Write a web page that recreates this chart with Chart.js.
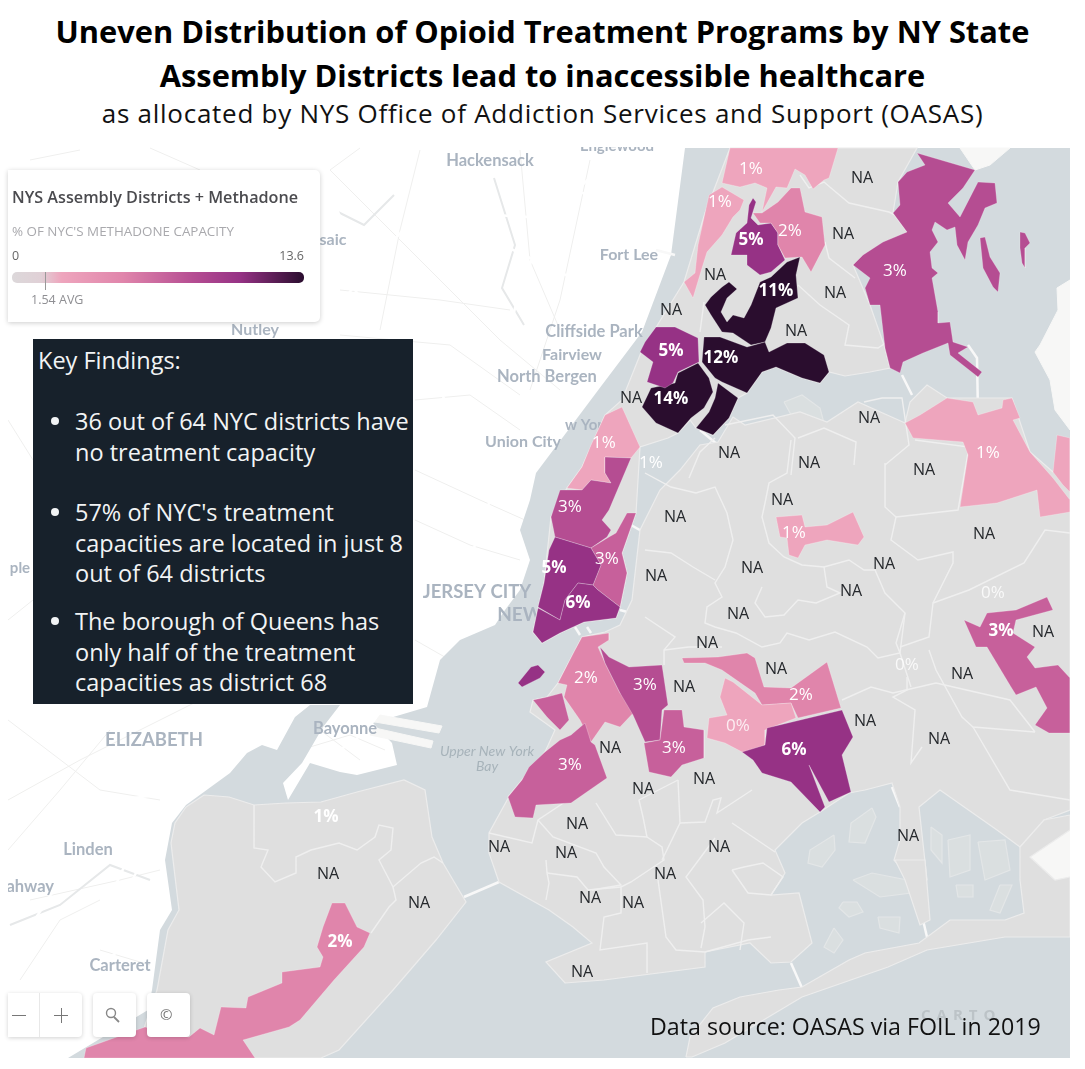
<!DOCTYPE html>
<html>
<head>
<meta charset="utf-8">
<title>Opioid Treatment Programs by NY State Assembly Districts</title>
<script src="https://cdn.jsdelivr.net/npm/chart.js@4/dist/chart.umd.min.js"></script>
<style>
  html, body { margin: 0; padding: 0; background: #fff; }
  body { position: relative; width: 1085px; height: 1069px; overflow: hidden; font-family: "Open Sans", sans-serif; }
  .t { position: absolute; white-space: nowrap; line-height: 1; }
  #title1, #title2 { left: 0; width: 1085px; text-align: center; font-weight: 700; font-size: 30.8px; color: #000; }
  #title1 { top: 16px; }
  #title2 { top: 60px; }
  #subtitle { left: 0; width: 1085px; text-align: center; font-size: 26px; letter-spacing: .74px; top: 100px; color: #111; }
  #mapCanvas { position: absolute; left: 8px; top: 147px; }
  #legendBox { position: absolute; left: 8px; top: 170px; width: 312px; height: 152px; background: #fff; border-radius: 0 5px 5px 0; box-shadow: 0 1px 5px rgba(0,0,0,.2); }
  #legendBar { position: absolute; left: 4px; top: 102px; width: 292px; height: 11px; border-radius: 5px;
    background: linear-gradient(90deg, #dcd8da 0%, #e0d0d6 10%, #eea5bd 17%, #e085ab 38%, #b54d92 62%, #963285 78%, #2a0d2e 100%); }
  #legendTick { position: absolute; left: 37px; top: 102px; width: 1px; height: 18px; background: #999; }
  #keyBox { position: absolute; left: 33px; top: 339px; width: 380px; height: 365px; background: #17212b; color: #f2f4f5; font-size: 23.5px; }
  .dot { position: absolute; left: 18px; width: 8px; height: 8px; border-radius: 50%; background: #f2f4f5; }
  .btn { position: absolute; top: 993px; height: 44px; background: #fff; border-radius: 4px; box-shadow: 0 1px 4px rgba(0,0,0,.18); color: #777; }
  #source { left: 650px; top: 1015px; font-size: 23.2px; color: #111; }
</style>
</head>
<body>
<div class="t" id="title1">Uneven Distribution of Opioid Treatment Programs by NY State</div>
<div class="t" id="title2">Assembly Districts lead to inaccessible healthcare</div>
<div class="t" id="subtitle">as allocated by NYS Office of Addiction Services and Support (OASAS)</div>

<canvas id="mapCanvas" width="1062" height="911"></canvas>

<div id="legendBox">
  <div class="t" style="left:4px;top:19px;font-size:16.2px;font-weight:600;color:#4b4b4f">NYS Assembly Districts + Methadone</div>
  <div class="t" style="left:4px;top:55px;font-size:13.4px;color:#a9a9ad">% OF NYC'S METHADONE CAPACITY</div>
  <div class="t" style="left:4px;top:80px;font-size:12.5px;color:#666">0</div>
  <div class="t" style="right:16px;top:80px;font-size:12.5px;color:#666">13.6</div>
  <div id="legendBar"></div>
  <div id="legendTick"></div>
  <div class="t" style="left:23px;top:124px;font-size:12.5px;color:#8f8f93">1.54 AVG</div>
</div>

<div id="keyBox">
  <div class="t" style="left:5px;top:10px">Key Findings:</div>
  <div class="dot" style="top:78px"></div>
  <div class="t" style="left:42px;top:71px">36 out of 64 NYC districts have</div>
  <div class="t" style="left:42px;top:102px">no treatment capacity</div>
  <div class="dot" style="top:169px"></div>
  <div class="t" style="left:42px;top:162px">57% of NYC's treatment</div>
  <div class="t" style="left:42px;top:193px">capacities are located in just 8</div>
  <div class="t" style="left:42px;top:223px">out of 64 districts</div>
  <div class="dot" style="top:278px"></div>
  <div class="t" style="left:42px;top:271px">The borough of Queens has</div>
  <div class="t" style="left:42px;top:302px">only half of the treatment</div>
  <div class="t" style="left:42px;top:332px">capacities as district 68</div>
</div>

<div class="btn" style="left:8px;width:74px;border-radius:0 4px 4px 0">
  <div style="position:absolute;left:31px;top:0;width:1px;height:44px;background:#e8e8e8"></div>
  <div style="position:absolute;left:4px;top:22px;width:14px;height:1px;background:#777"></div>
  <div style="position:absolute;left:46px;top:22px;width:14px;height:1px;background:#777"></div>
  <div style="position:absolute;left:53px;top:15px;width:1px;height:15px;background:#777"></div>
</div>
<div class="btn" style="left:93px;width:43px">
  <svg width="43" height="44"><circle cx="18" cy="20" r="4.5" fill="none" stroke="#888" stroke-width="1.4"/><line x1="21" y1="24" x2="26" y2="29" stroke="#888" stroke-width="1.8"/></svg>
</div>
<div class="btn" style="left:147px;width:43px">
  <div class="t" style="left:13px;top:14px;font-size:15px">©</div>
</div>

<div class="t" style="left:921px;top:1007px;font-size:15px;font-weight:700;letter-spacing:6px;color:#bcc3c7">CARTO</div>
<div class="t" id="source">Data source: OASAS via FOIL in 2019</div>

<script>
// base map outlines in page pixels
const water = [[685,148],[1070,148],[1070,1058],[68,1058],[148,1010],[152,990],[160,930],[172,910],[165,860],[172,823],[186,805],[230,773],[247,753],[262,745],[277,750],[295,717],[310,705],[340,705],[323,727],[302,763],[283,783],[288,800],[310,763],[340,772],[357,775],[397,765],[392,743],[373,723],[427,707],[440,660],[460,640],[495,625],[505,610],[520,590],[530,560],[520,530],[530,500],[536,473],[602,385],[642,332],[671,255]];
const northShore = [[960,148],[1010,148],[990,165],[975,170]];
const longIslandNorth = [[1070,280],[1057,288],[1058,310],[1040,345],[1035,352],[1050,380],[1055,410],[1070,430]];
const longIslandSouth = [[1070,830],[1030,857],[1055,880],[1070,877]];
const pierOne = [[380,715],[442,726],[439,733],[375,722]];
const pierTwo = [[375,728],[433,741],[431,748],[370,735]];
const bronxManhattan = [[730,148],[917,148],[898,182],[893,213],[907,232],[853,265],[870,305],[885,348],[890,368],[870,372],[845,376],[829,372],[820,383],[802,378],[776,367],[762,372],[747,393],[738,398],[729,418],[713,435],[696,428],[690,420],[678,433],[668,438],[640,447],[636,513],[622,553],[627,573],[620,607],[616,618],[584,622],[560,633],[542,643],[533,632],[538,608],[544,583],[551,517],[567,488],[582,467],[605,415],[622,400],[642,350],[684,282],[705,213]];
const queensBrooklyn = [[1070,440],[1053,472],[1030,452],[1012,398],[947,398],[927,385],[910,402],[905,423],[858,402],[827,422],[800,412],[745,425],[733,417],[718,442],[700,445],[680,470],[660,490],[640,530],[632,600],[620,625],[605,632],[582,637],[558,683],[547,697],[533,700],[530,712],[555,730],[545,752],[508,797],[511,793],[489,833],[489,853],[499,882],[549,910],[573,927],[592,943],[546,962],[565,983],[604,980],[705,967],[705,952],[750,943],[771,963],[791,962],[812,943],[799,893],[771,895],[785,873],[775,850],[802,823],[820,812],[849,793],[865,790],[892,783],[900,807],[900,840],[894,860],[912,880],[927,880],[919,807],[940,790],[997,830],[1020,847],[1044,820],[1070,810]];
const rockaway = [[686,1057],[690,1037],[713,1008],[740,997],[779,990],[802,987],[849,960],[865,953],[919,943],[950,920],[1005,920],[1024,913],[1020,880],[1020,847],[1044,820],[1070,815],[1070,830],[1030,857],[1055,880],[1070,877],[1070,937],[1005,937],[927,950],[888,967],[802,997],[725,1043],[692,1057]];
const broadChannel = [[895,860],[925,860],[930,920],[920,925],[905,880]];
const statenIsland = [[186,807],[204,795],[229,797],[254,805],[286,803],[321,802],[357,792],[404,780],[425,790],[432,837],[443,863],[466,902],[436,940],[393,990],[339,1050],[321,1058],[250,1058],[140,1040],[157,990],[168,930],[179,910],[171,843],[175,823]];
const landShapes = [northShore, longIslandNorth, longIslandSouth, pierOne, pierTwo];
const nycShapes = [bronxManhattan, queensBrooklyn, rockaway, broadChannel, statenIsland];

// small islands in the bays, drawn paler than the boroughs
const rikers = [[784,402],[802,395],[820,408],[824,423],[795,422]];
const marshA = [[834,835],[810,850],[808,863],[822,867],[835,850]];
const marshB = [[872,808],[851,823],[849,842],[865,843],[876,817]];
const marshC = [[853,880],[872,873],[907,880],[911,893],[880,897]];
const marshD = [[843,902],[857,902],[863,912],[849,917],[839,908]];
const marshE = [[834,928],[843,940],[834,953],[824,947]];
const marshF = [[878,917],[900,917],[899,933],[880,928]];
const marshG = [[931,827],[942,835],[942,863],[931,850]];
const marshH = [[948,840],[970,835],[970,870],[950,877]];
const marshI = [[978,842],[1005,840],[1010,870],[985,880]];
const marshJ = [[1000,885],[1012,885],[1000,913],[990,910]];
const marshK = [[956,885],[973,885],[973,897],[958,897]];
const islandShapes = [rikers, marshA, marshB, marshC, marshD, marshE, marshF, marshG, marshH, marshI, marshJ, marshK];

// roads and rivers on the New Jersey side, bridges across the water
const njRoads = [
  [[433,155],[446,192],[446,215],[494,215],[546,218],[576,192],[615,198],[624,232],[671,255]],
  [[615,155],[546,218],[515,308],[507,345]],
  [[312,155],[242,165]],
  [[446,218],[572,278],[671,285]],
  [[320,165],[342,222],[333,252],[368,312]],
  [[68,987],[132,850],[168,800],[182,813]],
  [[82,983],[157,830]],
  [[121,800],[168,793]],
  [[11,957],[71,863],[111,813]],
  [[288,800],[297,770],[353,743],[393,697]],
  [[420,640],[470,560],[500,470],[560,400]],
  [[414,350],[470,440],[530,470]],
  [[414,560],[500,570]],
  [[420,210],[300,350]],
  [[200,900],[120,950],[20,1020]]
];
const njMinorRoads = [
  [[330,170],[420,260],[500,340],[560,390]],
  [[420,150],[400,230],[380,330]],
  [[520,150],[530,260],[560,330]],
  [[590,160],[560,300],[530,390]],
  [[340,290],[440,300],[510,310]],
  [[340,335],[450,345],[520,395]],
  [[415,400],[470,395],[520,430]],
  [[415,470],[480,500],[525,520]],
  [[415,520],[470,545],[520,560]],
  [[415,640],[450,660]],
  [[8,720],[100,790],[160,800]],
  [[8,800],[80,760],[200,700]],
  [[8,850],[60,790],[110,730]],
  [[30,900],[120,880],[160,870]],
  [[20,980],[60,920],[100,900]],
  [[100,950],[150,965]],
  [[8,420],[33,460]],
  [[8,620],[33,600]],
  [[30,160],[80,150]],
  [[150,148],[200,170]],
  [[360,148],[330,170]],
  [[300,750],[350,735],[385,750]],
  [[320,730],[360,760]]
];
const njRivers = [
  [[494,178],[515,245],[502,288],[524,325]],
  [[394,195],[364,225],[338,212]],
  [[150,880],[110,865],[60,905],[10,925]]
];
const bridges = [
  [[464,897],[499,882]], [[791,963],[802,988]], [[923,920],[927,937]], [[892,787],[900,807]],
  [[902,375],[912,395]], [[968,345],[977,358],[978,415]], [[656,250],[675,255]], [[620,610],[631,613]],
  [[575,627],[580,635]], [[587,627],[591,633]], [[631,525],[645,533]], [[700,430],[718,445]]
];

// district boundaries inside the grey land
const districtLines = [
  [[791,440],[787,473],[769,483],[765,503],[762,517],[769,543],[784,557],[802,565],[824,567],[827,587],[840,593],[816,603],[798,600],[784,615],[765,617],[755,603],[762,587]],
  [[645,473],[671,487],[696,493],[715,487],[727,513],[733,540],[725,567],[715,583],[722,597],[707,607],[705,623],[715,627],[736,633],[762,647],[780,643],[787,633],[809,640],[835,632],[867,647],[878,658],[900,653],[905,613],[885,593],[875,570],[864,570],[849,560],[824,567]],
  [[645,550],[671,553],[693,567],[715,580]],
  [[645,617],[675,637],[664,650],[664,665]],
  [[885,463],[885,507],[896,517],[891,540],[918,560],[953,552],[953,563],[933,603],[929,637],[900,647]],
  [[896,517],[958,510],[969,447],[915,440]],
  [[933,603],[969,590],[1024,563],[1045,530],[1070,533]],
  [[929,650],[936,670],[962,717],[973,727],[1035,732]],
  [[907,677],[907,690],[893,697],[915,710],[911,763],[922,747]],
  [[842,700],[871,687],[893,693],[936,683]],
  [[905,613],[896,643],[900,653],[911,687]],
  [[664,650],[689,647],[722,647]],
  [[489,833],[532,843],[538,820],[565,802]],
  [[538,820],[553,837],[596,853],[604,867],[621,885],[592,890]],
  [[596,803],[616,835],[647,837],[643,817],[639,800],[678,780]],
  [[647,837],[662,847],[664,860],[631,882],[621,887],[621,913],[604,917],[600,950],[647,943],[647,973]],
  [[680,823],[705,822],[713,800],[721,798],[717,813],[752,790]],
  [[678,780],[680,823],[662,860]],
  [[715,838],[686,877],[703,900],[705,927],[701,948]],
  [[658,880],[666,937],[676,950],[705,952],[748,940],[771,937]],
  [[546,860],[547,873],[549,883],[546,900]],
  [[547,873],[577,877],[588,890],[621,887]],
  [[732,823],[775,852]],
  [[732,870],[748,893],[771,895],[783,877],[763,863],[744,867],[732,870]],
  [[701,923],[724,903],[744,923],[740,950]],
  [[254,805],[254,848],[268,850],[261,867],[275,882],[296,873],[296,857],[311,850],[339,843],[357,850],[375,837],[379,825],[393,828],[391,850],[379,860],[393,887],[421,863],[434,857],[443,863]],
  [[393,887],[396,900],[389,907],[371,933]],
  [[800,175],[809,188],[824,182],[831,188],[849,203],[889,212],[895,215]],
  [[825,242],[829,258],[855,278]],
  [[798,285],[820,305],[849,325],[845,345],[878,348],[893,338]],
  [[704,302],[700,332]],
  [[864,402],[882,398],[902,398],[909,445],[885,465]],
  [[715,438],[700,452],[689,478]],
  [[725,425],[773,415],[795,438],[791,475]],
  [[798,438],[824,428],[856,442],[854,465]],
  [[1070,800],[1010,790],[973,727]],
  [[936,683],[1010,700],[1035,732]]
];

// coloured districts
const adNorthBronx = [[730,148],[838,148],[829,178],[824,180],[813,189],[805,175],[795,169],[787,188],[776,187],[762,212],[767,188],[755,183],[740,187],[722,183]];
const adRiverdale = [[722,187],[744,200],[740,210],[733,217],[722,235],[707,252],[702,268],[693,298],[684,282],[695,273],[698,245],[705,213],[709,195]];
const adNorwood = [[753,198],[756,202],[751,218],[758,225],[771,223],[778,233],[778,245],[785,260],[771,272],[760,275],[747,265],[747,255],[731,255],[736,233],[747,223],[749,205]];
const adWakefield = [[791,188],[800,188],[805,212],[822,217],[825,245],[811,272],[802,257],[785,258],[778,245],[778,233],[771,223],[760,223],[753,213],[762,213],[778,202]];
const adFordham = [[800,257],[796,275],[798,298],[776,308],[771,328],[765,342],[751,345],[733,333],[722,332],[711,315],[705,305],[711,297],[722,287],[729,282],[737,289],[727,298],[721,312],[727,322],[733,315],[744,318],[751,305],[760,282],[771,277],[787,262]];
const adSoundview = [[704,337],[720,337],[747,347],[765,342],[769,352],[787,343],[805,343],[824,355],[829,372],[820,383],[802,378],[776,367],[762,372],[747,393],[722,382],[715,378],[702,362]];
const adHarlem = [[698,363],[709,378],[713,392],[704,408],[691,418],[678,433],[656,423],[642,407],[651,388],[675,383],[678,373]];
const adMottHaven = [[718,383],[738,398],[729,418],[713,435],[696,428],[709,412],[715,398]];
const adWashHeights = [[656,327],[675,327],[698,338],[699,362],[678,372],[673,383],[665,388],[647,382],[653,362],[640,352],[645,342]];
const adEastBronx = [[917,153],[975,170],[963,188],[948,203],[960,217],[978,182],[995,183],[997,203],[985,208],[978,225],[968,242],[965,260],[957,245],[955,227],[947,230],[935,222],[932,230],[938,242],[930,252],[932,268],[938,273],[932,278],[938,312],[938,323],[950,322],[953,342],[968,347],[958,353],[982,372],[978,377],[950,355],[948,343],[923,353],[903,362],[900,373],[890,368],[885,348],[880,305],[870,305],[865,288],[870,278],[853,265],[863,255],[883,242],[907,232],[893,213],[900,205],[898,182],[907,172],[925,165]];
const adCityIsland = [[980,238],[985,237],[990,257],[1000,273],[998,292],[993,287],[983,268]];
const adHartIsland = [[1020,232],[1025,233],[1030,243],[1025,248],[1025,268],[1022,263],[1020,248]];
const adFlushing = [[947,398],[973,402],[978,415],[1002,408],[1003,400],[1012,398],[1020,418],[1013,420],[1030,452],[1053,478],[1070,500],[1070,512],[1040,517],[1037,490],[997,503],[960,507],[968,455],[963,442],[913,438],[905,423],[920,415]];
const adBayside = [[1057,435],[1070,438],[1070,492],[1063,485],[1053,472]];
const adUpperEast = [[622,407],[640,447],[631,458],[605,457],[605,473],[611,483],[591,480],[582,490],[567,488],[582,467],[591,445],[605,415]];
const adUpperWest = [[605,457],[631,458],[609,510],[602,520],[611,530],[607,537],[591,548],[555,537],[551,517],[560,490],[582,490],[591,480],[611,483],[605,473]];
const adEastSide = [[627,513],[636,513],[622,553],[627,573],[620,607],[598,590],[593,585],[601,565],[591,548],[609,537],[616,533]];
const adMidtown = [[555,537],[591,548],[601,565],[593,585],[578,583],[565,600],[560,620],[538,607],[544,583],[549,550]];
const adLowerEast = [[578,583],[593,585],[598,590],[620,607],[616,618],[584,622],[560,633],[542,643],[533,632],[538,608],[560,620],[565,600]];
const adGovernors = [[531,667],[538,665],[545,672],[540,678],[522,687],[518,683]];
const adParkSlope = [[582,637],[609,633],[609,640],[598,647],[605,663],[620,693],[636,710],[620,727],[605,722],[591,742],[580,720],[564,697],[567,685],[558,683],[575,650]];
const adRedHook = [[562,693],[569,720],[560,730],[547,717],[533,700],[547,697]];
const adBedStuy = [[600,647],[609,657],[629,667],[662,665],[668,705],[662,710],[660,740],[645,742],[633,715],[620,693],[605,663]];
const adCrownHeights = [[664,710],[682,710],[684,727],[704,730],[704,758],[682,765],[671,777],[649,772],[644,743],[660,740]];
const adSunsetPark = [[585,723],[591,742],[595,745],[607,778],[571,803],[536,805],[533,818],[515,817],[508,797],[522,780],[529,767],[545,752],[560,740],[571,735]];
const adWoodhaven = [[682,658],[718,657],[747,653],[755,658],[764,687],[791,688],[827,662],[841,708],[798,718],[791,703],[762,705],[755,693],[722,670],[705,663],[684,663]];
const adBushwick = [[725,678],[733,682],[762,705],[791,703],[796,718],[765,730],[765,745],[744,753],[725,743],[707,738],[709,718],[727,715],[720,697]];
const adEastNY = [[767,728],[842,710],[853,737],[842,755],[851,792],[829,802],[809,765],[825,807],[820,812],[791,782],[762,773],[753,760],[742,752],[765,745]];
const adElmhurst = [[776,517],[802,515],[805,527],[827,525],[853,512],[864,537],[858,545],[827,540],[805,545],[798,558],[789,555],[787,538],[780,537]];
const adSoutheastQueens = [[1047,597],[1053,610],[1016,620],[1013,633],[1035,647],[1027,657],[1035,668],[1058,665],[1070,678],[1070,733],[1049,733],[1035,725],[1047,708],[1036,687],[1016,695],[1011,687],[987,647],[976,647],[964,620],[980,627],[987,613],[1016,610]];
const adSouthShore = [[332,903],[345,903],[357,927],[370,933],[364,947],[334,980],[300,1020],[289,1027],[243,1040],[255,1058],[84,1058],[86,1048],[145,1027],[189,1037],[200,1028],[214,1035],[221,1007],[246,1008],[248,997],[282,983],[282,972],[320,967],[323,957],[317,947],[323,927]];

const districtShapes = [adNorthBronx, adRiverdale, adNorwood, adWakefield, adFordham, adSoundview, adHarlem, adMottHaven, adWashHeights, adEastBronx, adCityIsland, adHartIsland, adFlushing, adBayside, adUpperEast, adUpperWest, adEastSide, adMidtown, adLowerEast, adGovernors, adParkSlope, adRedHook, adBedStuy, adCrownHeights, adSunsetPark, adWoodhaven, adBushwick, adEastNY, adElmhurst, adSoutheastQueens, adSouthShore];
const districtShares = [1.2, 1.1, 5, 2, 11.2, 12.1, 13.6, 12.1, 5, 3.4, 3.4, 3.4, 1.2, 1.2, 1.1, 3.4, 2.7, 5.6, 5.6, 5.6, 2, 2.7, 3.4, 2.7, 2.7, 2, 0.8, 6, 1.2, 2.7, 2];

// map labels
const naX = [862,843,835,715,796,671,631,869,729,809,924,675,782,984,884,851,752,656,738,707,776,684,962,1043,865,939,610,704,643,577,499,566,719,908,665,590,633,582,328,419];
const naY = [178,234,293,275,331,310,398,418,453,463,470,517,500,534,564,591,568,576,614,643,669,687,674,632,721,739,748,779,789,824,847,853,847,836,874,898,903,972,874,903];
const shareText = ["11%","12%","14%","5%","5%","5%","6%","6%","3%","2%","1%","1%","1%","2%","3%","1%","1%","1%","3%","3%","1%","2%","3%","3%","3%","2%","0%","0%","0%"];
const shareX = [776,721,671,751,671,554,578,794,1001,340,326,751,720,790,895,604,651,988,570,607,794,586,645,674,570,801,738,993,907];
const shareY = [291,358,399,240,351,568,603,750,631,942,817,169,202,231,271,443,463,453,507,559,533,678,685,748,765,695,726,593,665];
const shareBold = [1,1,1,1,1,1,1,1,1,1,1,0,0,0,0,0,0,0,0,0,0,0,0,0,0,0,0,0,0];
const placeNames = ["Hackensack","Fort Lee","Cliffside Park","Fairview","North Bergen","Union City","w Yor","Nutley","saic","ple","JERSEY CITY","NEW","ELIZABETH","Bayonne","Linden","Rahway","Carteret","Englewood"];
const placeX = [490,629,594,572,547,523,584,255,333,20,477,520,154,345,88,25,120,617];
const placeY = [161,255,332,355,377,442,425,330,240,568,592,615,740,729,850,887,966,146];
const placeSize = [16.5,16,16.5,16,16.5,16,15,16,16,15,18.5,19,18.5,16.5,16.5,16.5,16.5,15];

function toPoints(shape) {
  return shape.map(p => ({ x: p[0], y: p[1] }));
}

function polygon(shape, fillColor, lineColor, lineWidth) {
  return {
    data: toPoints(shape.concat([shape[0]])),
    showLine: true,
    fill: "shape",
    backgroundColor: fillColor,
    borderColor: lineColor,
    borderWidth: lineWidth,
    pointRadius: 0,
    tension: 0
  };
}

function polyline(shape, lineColor, lineWidth) {
  return {
    data: toPoints(shape),
    showLine: true,
    fill: false,
    borderColor: lineColor,
    borderWidth: lineWidth,
    pointRadius: 0,
    tension: 0
  };
}

function shareColor(v) {
  if (v >= 10) return "#2a0d2e";
  if (v >= 4.5) return "#963285";
  if (v >= 3) return "#b54d92";
  if (v >= 2.5) return "#c7609b";
  if (v >= 1.5) return "#e085ab";
  return "#eea5bd";
}

function textPoints(xs, ys, names) {
  return { label: names, data: xs.map((x, i) => ({ x: x, y: ys[i] })), pointRadius: 0, showLine: false };
}

// bottom layer first, the order is flipped below because Chart.js paints the first dataset last
const layers = [];
njMinorRoads.forEach(s => layers.push(polyline(s, "#efefee", 1)));
njRivers.forEach(s => layers.push(polyline(s, "#e6e8e9", 2)));
njRoads.forEach(s => layers.push(polyline(s, "#ffffff", 2.5)));
layers.push(polygon(water, "#d3dade", "#d3dade", 0));
landShapes.forEach(s => layers.push(polygon(s, "#f7f7f6", "#f7f7f6", 1)));
const placeLayer = layers.push(textPoints(placeX, placeY, "places")) - 1;
bridges.forEach(s => layers.push(polyline(s, "#f8f8f8", 2.5)));
islandShapes.forEach(s => layers.push(polygon(s, "#dadfe0", "#e3e6e7", 1.2)));
nycShapes.forEach(s => layers.push(polygon(s, "#dfdfdf", "#ececec", 1.2)));
districtLines.forEach(s => layers.push(polyline(s, "#efefef", 1.4)));
districtShapes.forEach((s, i) => layers.push(polygon(s, shareColor(districtShares[i]), "rgba(255,255,255,.3)", 0.8)));
const naLayer = layers.push(textPoints(naX, naY, "NA")) - 1;
const shareLayer = layers.push(textPoints(shareX, shareY, "share")) - 1;

const total = layers.length;

const mapText = {
  id: "mapText",
  afterDatasetDraw(chart, args) {
    const ctx = chart.ctx;
    const pts = chart.getDatasetMeta(args.index).data;
    const layer = total - 1 - args.index;
    ctx.save();
    ctx.textAlign = "center";
    ctx.textBaseline = "middle";
    if (layer === placeLayer) {
      pts.forEach((p, i) => {
        ctx.font = "700 " + placeSize[i] + "px Lato, sans-serif";
        ctx.fillStyle = "#aab4c0";
        ctx.fillText(placeNames[i], p.x, p.y);
      });
      ctx.font = "italic 14px Lato, sans-serif";
      ctx.fillStyle = "#a7b3ba";
      ctx.fillText("Upper New York", chart.scales.x.getPixelForValue(487), chart.scales.y.getPixelForValue(751));
      ctx.fillText("Bay", chart.scales.x.getPixelForValue(487), chart.scales.y.getPixelForValue(766));
    }
    if (layer === naLayer) {
      ctx.font = "16px 'Open Sans', sans-serif";
      ctx.fillStyle = "#25282c";
      pts.forEach(p => ctx.fillText("NA", p.x, p.y));
    }
    if (layer === shareLayer) {
      pts.forEach((p, i) => {
        ctx.font = (shareBold[i] ? "700 " : "400 ") + "17px 'Open Sans', sans-serif";
        ctx.fillStyle = shareText[i] === "0%" ? "rgba(255,255,255,.8)" : "#ffffff";
        ctx.fillText(shareText[i], p.x, p.y);
      });
    }
    ctx.restore();
  }
};

new Chart(document.getElementById("mapCanvas"), {
  type: "scatter",
  data: { datasets: layers.slice().reverse() },
  options: {
    responsive: false,
    animation: false,
    devicePixelRatio: 1,
    layout: { padding: 0 },
    plugins: { legend: { display: false }, tooltip: { enabled: false } },
    scales: {
      x: { type: "linear", display: false, min: 8, max: 1070 },
      y: { type: "linear", display: false, min: 147, max: 1058, reverse: true }
    }
  },
  plugins: [mapText]
});
</script>
</body>
</html>
